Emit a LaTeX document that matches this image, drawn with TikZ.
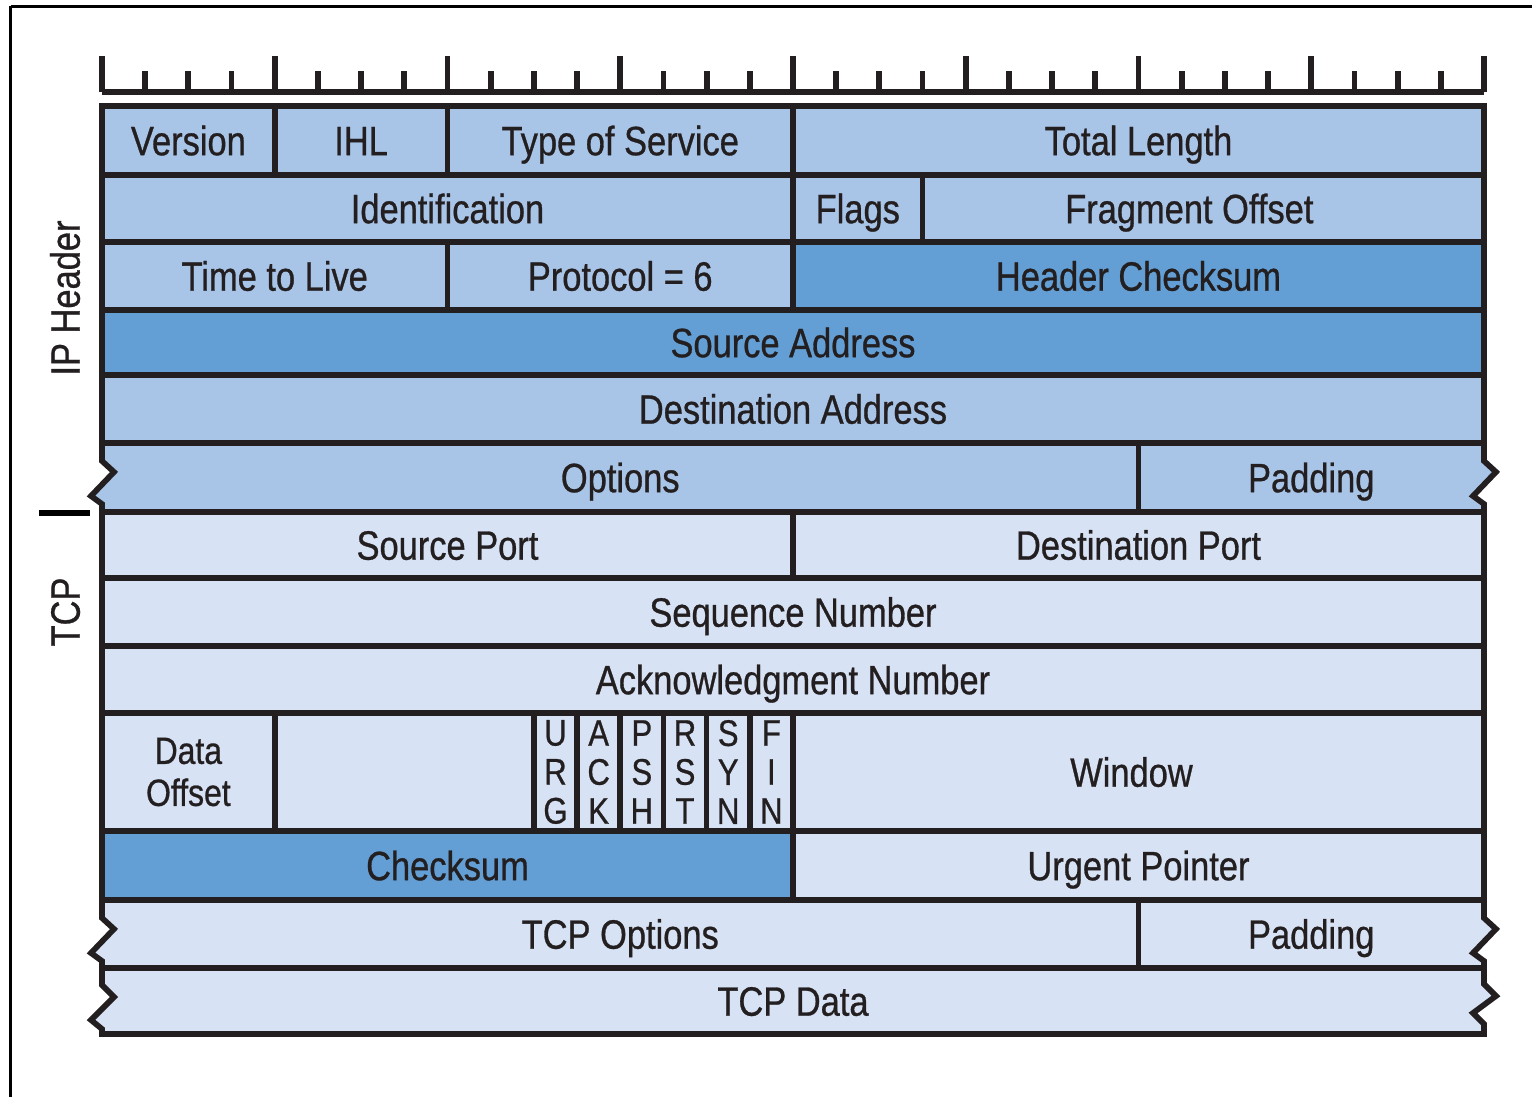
\documentclass[tikz,border=0pt]{standalone}
\usepackage{fontspec}
\setmainfont{Liberation Sans}[FakeStretch=0.84,FakeBold=0.7]
\definecolor{lightip}{HTML}{A8C4E7}
\definecolor{midblue}{HTML}{639ED4}
\definecolor{pale}{HTML}{D7E2F4}
\definecolor{ink}{HTML}{231F20}
\tikzset{
  cellbox/.style={draw=ink,line width=2.85pt,rectangle,inner sep=0pt,outer sep=0pt,align=center,text=ink},
  oneline/.style={font=\fontsize{20.5}{24}\selectfont,text height=14.7pt,text depth=0pt},
  twoline/.style={font=\fontsize{19}{21}\selectfont},
  flagtxt/.style={font=\fontsize{18.5}{19.5}\selectfont},
  lbl/.style={text=ink,inner sep=0pt,font=\fontsize{20.5}{24}\selectfont,text height=14.7pt,text depth=0pt},
  zigrow/.style={draw=ink,line width=2.85pt,line join=miter},
  tick/.style={draw=ink,line width=2.9pt},
  frame/.style={draw=black,line width=1.5pt}
}
\newcommand\fcell[8][oneline]{%
  \pgfmathsetmacro\cellW{(#5-#3)*0.5}%
  \pgfmathsetmacro\cellH{(#6-#4)*0.5}%
  \node[cellbox,#1,fill=#7,minimum width=\cellW pt,minimum height=\cellH pt,anchor=north west] (#2) at (#3,#4) {#8};}
\begin{document}
\begin{tikzpicture}[x=0.5pt,y=-0.5pt]
\useasboundingbox (0,0) rectangle (1532,1097);
% outer frame
\draw[frame] (10.5,6.5) -- (1532,6.5);
\draw[frame] (10.5,6.5) -- (10.5,1097);
% ruler
\draw[tick] (102,92) -- (1484,92);
\foreach \i in {0,...,32}{%
  \pgfmathsetmacro\tx{102+43.1875*\i}%
  \pgfmathtruncatemacro\tm{mod(\i,4)}%
  \ifnum\tm=0 \draw[tick] (\tx,92) -- (\tx,56);\else \draw[tick] (\tx,92) -- (\tx,71);\fi
}
% IP header rows
\fcell{version}{102}{106}{274.75}{175}{lightip}{Version}
\fcell{ihl}{274.75}{106}{447.5}{175}{lightip}{IHL}
\fcell{tos}{447.5}{106}{793}{175}{lightip}{Type of Service}
\fcell{totlen}{793}{106}{1484}{175}{lightip}{Total Length}
\fcell{ident}{102}{175}{793}{242}{lightip}{Identification}
\fcell{flags}{793}{175}{922.6}{242}{lightip}{Flags}
\fcell{fragoff}{922.6}{175}{1484}{242}{lightip}{Fragment Offset\hspace*{14pt}}
\fcell{ttl}{102}{242}{447.5}{310}{lightip}{Time to Live}
\fcell{proto}{447.5}{242}{793}{310}{lightip}{Protocol = 6}
\fcell{hcheck}{793}{242}{1484}{310}{midblue}{Header Checksum}
\fcell{srcaddr}{102}{310}{1484}{375}{midblue}{Source Address}
\fcell{dstaddr}{102}{375}{1484}{443}{lightip}{Destination Address}
% IP options row (broken edges)
\path[zigrow,fill=lightip] (102,443) -- (1484,443) -- (1484,461) -- (1496,472) -- (1473,496) -- (1484,504) -- (1484,512)
  -- (102,512) -- (102,504) -- (91,496) -- (114,472) -- (102,461) -- cycle;
\draw[draw=ink,line width=2.85pt] (1138.5,443) -- (1138.5,512);
\node[lbl] (ipopts) at (620.25,477.5) {Options};
\node[lbl] (ippad) at (1311.25,477.5) {Padding};
% TCP rows
\fcell{srcport}{102}{512}{793}{578}{pale}{Source Port}
\fcell{dstport}{793}{512}{1484}{578}{pale}{Destination Port}
\fcell{seqnum}{102}{578}{1484}{646}{pale}{Sequence Number}
\fcell{acknum}{102}{646}{1484}{713}{pale}{Acknowledgment Number}
\fcell[twoline]{dataoff}{102}{713}{274.75}{831}{pale}{Data\\Offset}
\fcell{reserved}{274.75}{713}{533.9}{831}{pale}{}
\fcell[flagtxt]{urg}{533.9}{713}{577.1}{831}{pale}{U\\R\\G}
\fcell[flagtxt]{ack}{577.1}{713}{620.25}{831}{pale}{A\\C\\K}
\fcell[flagtxt]{psh}{620.25}{713}{663.4}{831}{pale}{P\\S\\H}
\fcell[flagtxt]{rst}{663.4}{713}{706.6}{831}{pale}{R\\S\\T}
\fcell[flagtxt]{syn}{706.6}{713}{749.8}{831}{pale}{S\\Y\\N}
\fcell[flagtxt]{fin}{749.8}{713}{793}{831}{pale}{F\\I\\N}
\fcell{window}{793}{713}{1484}{831}{pale}{Window\hspace*{7pt}}
\fcell{tcpcheck}{102}{831}{793}{900}{midblue}{Checksum}
\fcell{urgent}{793}{831}{1484}{900}{pale}{Urgent Pointer}
% TCP options row
\path[zigrow,fill=pale] (102,900) -- (1484,900) -- (1484,918) -- (1496,929) -- (1473,953) -- (1484,961) -- (1484,968)
  -- (102,968) -- (102,961) -- (91,953) -- (114,929) -- (102,918) -- cycle;
\draw[draw=ink,line width=2.85pt] (1138.5,900) -- (1138.5,968);
\node[lbl] (tcpopts) at (620.25,934) {TCP Options};
\node[lbl] (tcppad) at (1311.25,934) {Padding};
% TCP data row
\path[zigrow,fill=pale] (102,968) -- (1484,968) -- (1484,984) -- (1496,996) -- (1473,1013) -- (1484,1024) -- (1484,1034)
  -- (102,1034) -- (102,1029) -- (91,1020) -- (114,997) -- (102,985) -- cycle;
\node[lbl] (tcpdata) at (793,1001) {TCP Data};
% side labels
\node[lbl,rotate=90] (iphdr) at (65,298) {IP Header};
\node[lbl,rotate=90] (tcplbl) at (65,612) {TCP};
\coordinate (mk1) at (39,513);
\coordinate (mk2) at (90,513);
\draw[draw=black,line width=2.6pt] (mk1) -- (mk2);
\end{tikzpicture}
\end{document}
